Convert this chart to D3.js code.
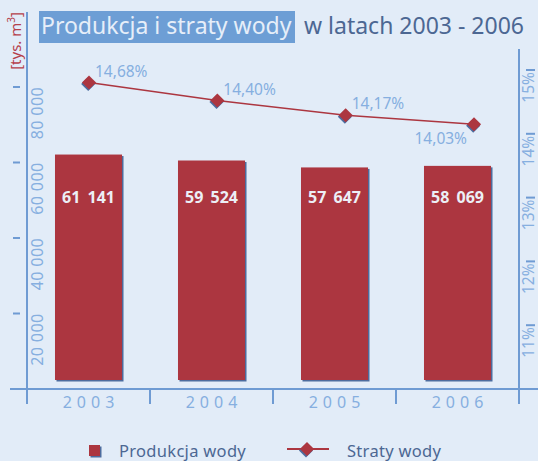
<!DOCTYPE html>
<html>
<head>
<meta charset="utf-8">
<script src="https://cdn.jsdelivr.net/npm/d3@7"></script>
<style>
  body { margin: 0; background: #e2ecf8; }
  svg { display: block; font-family: "Noto Sans", sans-serif; }
</style>
</head>
<body>
<div id="chart"></div>
<script>
// data
const years = ["2003", "2004", "2005", "2006"];
const production = [61141, 59524, 57647, 58069];   // tys. m3
const productionLabels = ["61 141", "59 524", "57 647", "58 069"];
const losses = [14.68, 14.40, 14.17, 14.03];       // %
const lossLabels = ["14,68%", "14,40%", "14,17%", "14,03%"];
const leftTicks = [20000, 40000, 60000, 80000];
const leftTickLabels = ["20 000", "40 000", "60 000", "80 000"];
const rightTicks = [11, 12, 13, 14, 15];

const W = 538, H = 461;
const axisColor = "#6f9bd3";
const labelBlue = "#86afe0";
const barRed = "#ac3640";
const shadowBlue = "#4d6c9e";
const darkText = "#4c6793";

let svg = d3.select("#chart").append("svg")
  .attr("width", W)
  .attr("height", H);

svg.append("rect").attr("width", W).attr("height", H).attr("fill", "#e2ecf8");

// scales
let xAxisScale = d3.scaleBand().domain(years).range([27, 519]);
let xBar = d3.scaleBand().domain(years).range([27, 519])
  .paddingInner(0.455).paddingOuter(0.2275);
let xLine = d3.scalePoint().domain(years).range([89, 474]);

let yBar = d3.scaleLinear().domain([0, 80000]).range([380, 85]);
let yLeft = d3.scaleLinear().domain([0, 80000]).range([389, 87]);
let yRight = d3.scaleLinear().domain([10, 15]).range([389, 70]);
let yLine = d3.scaleLinear().domain([10, 15]).range([383, 62]);

// title
svg.append("rect")
  .attr("x", 39).attr("y", 11)
  .attr("width", 256).attr("height", 32)
  .attr("fill", "#6d9ed5");
svg.append("text")
  .attr("x", 41).attr("y", 34)
  .attr("fill", "#e6eef9")
  .style("font-size", "23px")
  .text("Produkcja i straty wody");
svg.append("text")
  .attr("x", 304).attr("y", 34)
  .attr("fill", darkText)
  .style("font-size", "23px")
  .text("w latach 2003 - 2006");

// axis lines
let axes = svg.append("g").attr("stroke", axisColor).attr("stroke-width", 2);
axes.append("line").attr("x1", 27).attr("x2", 27).attr("y1", 12).attr("y2", 404);
axes.append("line").attr("x1", 519).attr("x2", 519).attr("y1", 49).attr("y2", 404);
axes.append("line").attr("x1", 10).attr("x2", W).attr("y1", 389).attr("y2", 389);

// bottom ticks at band edges
let xEdges = years.map(d => xAxisScale(d)).concat([xAxisScale.range()[1]]);
axes.selectAll(".xtick")
  .data(xEdges)
  .enter()
  .append("line")
  .attr("class", "xtick")
  .attr("x1", d => d).attr("x2", d => d)
  .attr("y1", 389).attr("y2", 404);

// left ticks (detached dashes)
axes.selectAll(".ltick")
  .data(leftTicks)
  .enter()
  .append("line")
  .attr("class", "ltick")
  .attr("x1", 13).attr("x2", 20)
  .attr("y1", d => yLeft(d)).attr("y2", d => yLeft(d));

axes.selectAll(".rtick")
  .data(rightTicks)
  .enter()
  .append("line")
  .attr("class", "rtick")
  .attr("x1", 526).attr("x2", 535)
  .attr("y1", d => yRight(d)).attr("y2", d => yRight(d));

// left tick labels
svg.selectAll(".llabel")
  .data(leftTicks)
  .enter()
  .append("text")
  .attr("class", "llabel")
  .attr("transform", d => `translate(43, ${yLeft(d)}) rotate(-90)`)
  .attr("text-anchor", "end")
  .attr("fill", labelBlue)
  .style("font-size", "16px")
  .style("letter-spacing", "0.4px")
  .text((d, i) => leftTickLabels[i]);

// right tick labels
svg.selectAll(".rlabel")
  .data(rightTicks)
  .enter()
  .append("text")
  .attr("class", "rlabel")
  .attr("transform", d => `translate(534, ${yRight(d) + 2}) rotate(-90)`)
  .attr("text-anchor", "end")
  .attr("fill", labelBlue)
  .style("font-size", "15.5px")
  .text(d => d + "%");

// unit label
let unit = svg.append("text")
  .attr("transform", "translate(21, 12) rotate(-90)")
  .attr("text-anchor", "end")
  .attr("fill", "#b5404a")
  .style("font-size", "15px");
unit.append("tspan").text("[tys. m");
unit.append("tspan").attr("dy", -6).style("font-size", "10px").text("3");
unit.append("tspan").attr("dy", 6).text("]");

// year labels
svg.selectAll(".year")
  .data(years)
  .enter()
  .append("text")
  .attr("class", "year")
  .attr("x", d => xAxisScale(d) + xAxisScale.bandwidth() / 2 + 2.5)
  .attr("y", 408)
  .attr("text-anchor", "middle")
  .attr("fill", labelBlue)
  .style("font-size", "16px")
  .style("letter-spacing", "5px")
  .text(d => d);

// bars with shadow
let bars = svg.append("g");
bars.selectAll(".barshadow")
  .data(production)
  .enter()
  .append("rect")
  .attr("class", "barshadow")
  .attr("x", (d, i) => xBar(years[i]) + 1.5)
  .attr("y", d => yBar(d) + 1.5)
  .attr("width", xBar.bandwidth())
  .attr("height", d => yBar(0) - yBar(d))
  .attr("fill", shadowBlue);
bars.selectAll(".bar")
  .data(production)
  .enter()
  .append("rect")
  .attr("class", "bar")
  .attr("x", (d, i) => xBar(years[i]))
  .attr("y", d => yBar(d))
  .attr("width", xBar.bandwidth())
  .attr("height", d => yBar(0) - yBar(d))
  .attr("fill", barRed);

bars.selectAll(".barlabel")
  .data(production)
  .enter()
  .append("text")
  .attr("class", "barlabel")
  .attr("x", (d, i) => xBar(years[i]) + xBar.bandwidth() / 2)
  .attr("y", 203)
  .attr("text-anchor", "middle")
  .attr("fill", "#eceff6")
  .style("font-size", "16px")
  .style("font-weight", "bold")
  .style("word-spacing", "3px")
  .text((d, i) => productionLabels[i]);

// loss line
let line = d3.line()
  .x((d, i) => xLine(years[i]))
  .y(d => yLine(d));

svg.append("path")
  .datum(losses)
  .attr("d", line)
  .attr("fill", "none")
  .attr("stroke", barRed)
  .attr("stroke-width", 1.6);

let diamond = d3.symbol().type(d3.symbolSquare).size(100);
svg.selectAll(".dshadow")
  .data(losses)
  .enter()
  .append("path")
  .attr("class", "dshadow")
  .attr("d", diamond)
  .attr("transform", (d, i) => `translate(${xLine(years[i]) - 0.8}, ${yLine(d) + 1.5}) rotate(45)`)
  .attr("fill", shadowBlue);
svg.selectAll(".dot")
  .data(losses)
  .enter()
  .append("path")
  .attr("class", "dot")
  .attr("d", diamond)
  .attr("transform", (d, i) => `translate(${xLine(years[i])}, ${yLine(d)}) rotate(45)`)
  .attr("fill", barRed);

svg.selectAll(".losslabel")
  .data(losses)
  .enter()
  .append("text")
  .attr("class", "losslabel")
  .attr("x", (d, i) => i === 3 ? xLine(years[i]) - 7 : xLine(years[i]) + 6)
  .attr("y", (d, i) => i === 3 ? yLine(d) + 20 : yLine(d) - 6)
  .attr("text-anchor", (d, i) => i === 3 ? "end" : "start")
  .attr("fill", labelBlue)
  .style("font-size", "15.5px")
  .text((d, i) => lossLabels[i]);

// legend
let legend = svg.append("g");
legend.append("rect")
  .attr("x", 90.5).attr("y", 446.5).attr("width", 11).attr("height", 11)
  .attr("fill", shadowBlue);
legend.append("rect")
  .attr("x", 89).attr("y", 445).attr("width", 11).attr("height", 11)
  .attr("fill", barRed);
legend.append("text")
  .attr("x", 119).attr("y", 457)
  .attr("fill", darkText)
  .style("font-size", "16.5px")
  .style("letter-spacing", "0.3px")
  .text("Produkcja wody");
legend.append("line")
  .attr("x1", 287).attr("x2", 329).attr("y1", 449).attr("y2", 449)
  .attr("stroke", barRed).attr("stroke-width", 2);
legend.append("path")
  .attr("d", diamond)
  .attr("transform", "translate(306, 450.5) rotate(45)")
  .attr("fill", shadowBlue);
legend.append("path")
  .attr("d", diamond)
  .attr("transform", "translate(307, 449) rotate(45)")
  .attr("fill", barRed);
legend.append("text")
  .attr("x", 347).attr("y", 457)
  .attr("fill", darkText)
  .style("font-size", "16.5px")
  .style("letter-spacing", "0.3px")
  .text("Straty wody");
</script>
</body>
</html>
